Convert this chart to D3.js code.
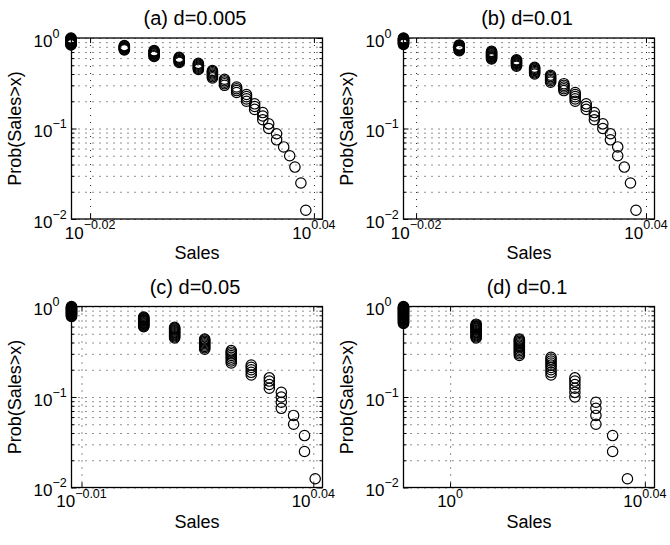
<!DOCTYPE html>
<html>
<head>
<meta charset="utf-8">
<script src="https://cdn.jsdelivr.net/npm/d3@7"></script>
<style>
  body { margin: 0; background: #fff; }
  svg { display: block; }
  text { font-family: "Liberation Sans", Arial, Helvetica, sans-serif; fill: #000; }
</style>
</head>
<body>
<div id="plot"></div>
<script>
// Panel titles
const titles = ["(a) d=0.005", "(b) d=0.01", "(c) d=0.05", "(d) d=0.1"];

// Distinct sales levels and how many samples sit at each level
const salesA  = [0.9438, 0.9754, 0.9935, 1.0090, 1.0210, 1.0299, 1.0376, 1.0454, 1.0518, 1.0571, 1.0624, 1.0663, 1.0715, 1.0762, 1.0802, 1.0837, 1.0877, 1.0910];
const countsA = [14, 8, 9, 7, 7, 7, 5, 4, 4, 3, 3, 2, 2, 1, 1, 1, 1, 1];

const salesB  = [0.9478, 0.9801, 0.9993, 1.0144, 1.0255, 1.0354, 1.0437, 1.0508, 1.0578, 1.0630, 1.0684, 1.0733, 1.0780, 1.0823, 1.0863, 1.0899];
const countsB = [13, 10, 11, 8, 7, 6, 5, 5, 3, 3, 2, 2, 2, 1, 1, 1];

const salesC  = [0.9724, 1.0079, 1.0235, 1.0389, 1.0527, 1.0632, 1.0728, 1.0792, 1.0858, 1.0917, 1.0975];
const countsC = [19, 14, 12, 9, 8, 5, 4, 4, 2, 2, 1];

const salesD  = [0.9782, 1.0124, 1.0333, 1.0489, 1.0608, 1.0714, 1.0799, 1.0875];
const countsD = [29, 16, 13, 9, 6, 4, 2, 1];

// Axis limits and tick exponents (labels are 10^exp)
const xLimitsA = [0.9441, 1.1023];
const xLimitsB = [0.9478, 1.1021];
const xLimitsC = [0.9724, 1.1015];
const xLimitsD = [0.9782, 1.1015];
const xTickExpA = ["-0.02", "0.04"];
const xTickExpB = ["-0.02", "0.04"];
const xTickExpC = ["-0.01", "0.04"];
const xTickExpD = ["0", "0.04"];
const yTickExp = ["-2", "-1", "0"];

const width = 670, height = 545;
const W = 251, H = 181;
const lefts = [71.5, 403.5], tops = [38, 306.5];

const svg = d3.select("#plot").append("svg")
  .attr("width", width)
  .attr("height", height);

const panels = [
  { title: titles[0], sales: salesA, counts: countsA, lim: xLimitsA, ticks: xTickExpA },
  { title: titles[1], sales: salesB, counts: countsB, lim: xLimitsB, ticks: xTickExpB },
  { title: titles[2], sales: salesC, counts: countsC, lim: xLimitsC, ticks: xTickExpC },
  { title: titles[3], sales: salesD, counts: countsD, lim: xLimitsD, ticks: xTickExpD }
];

// y grid / tick positions: 1..9 x each decade
const yMajor = yTickExp.map(e => Math.pow(10, +e));
const yMinor = [];
[-2, -1].forEach(e => d3.range(2, 10).forEach(m => yMinor.push(m * Math.pow(10, e))));

panels.forEach((p, i) => {
  const left = lefts[i % 2], top = tops[Math.floor(i / 2)];
  const g = svg.append("g").attr("transform", `translate(${left},${top})`);

  const x = d3.scaleLog().domain(p.lim).range([0, W]);
  const y = d3.scaleLog().domain([0.01, 1]).range([H, 0]);
  const xTickVals = p.ticks.map(e => Math.pow(10, +e));

  // empirical CCDF: Prob(Sales > x) = rank / N, one marker per sample
  const N = d3.sum(p.counts);
  const pts = [];
  let k = N;
  p.sales.forEach((s, j) => {
    for (let c = 0; c < p.counts[j]; c++) {
      pts.push({ sales: s, prob: k / N });
      k--;
    }
  });

  // dotted grid
  const gridY = g.append("g")
    .call(d3.axisLeft(y).tickValues(yMinor.concat(yMajor)).tickSize(-W).tickFormat(""));
  const gridX = g.append("g")
    .call(d3.axisBottom(x).tickValues(xTickVals).tickSize(H).tickFormat(""));
  [gridY, gridX].forEach(gr => {
    gr.select(".domain").remove();
    gr.selectAll("line")
      .attr("stroke", "#222")
      .attr("stroke-width", 1)
      .attr("stroke-dasharray", "1,6");
  });

  // tick marks (inward) on all four sides
  const tick = (axis, tx, ty) => {
    const a = g.append("g").attr("transform", `translate(${tx},${ty})`).call(axis);
    a.select(".domain").remove();
    a.selectAll("line").attr("stroke", "#000");
  };
  tick(d3.axisLeft(y).tickValues(yMinor).tickSize(-3).tickFormat(""), 0, 0);
  tick(d3.axisLeft(y).tickValues(yMajor).tickSize(-5).tickFormat(""), 0, 0);
  tick(d3.axisRight(y).tickValues(yMinor).tickSize(-3).tickFormat(""), W, 0);
  tick(d3.axisRight(y).tickValues(yMajor).tickSize(-5).tickFormat(""), W, 0);
  tick(d3.axisBottom(x).tickValues(xTickVals).tickSize(-5).tickFormat(""), 0, H);
  tick(d3.axisTop(x).tickValues(xTickVals).tickSize(-5).tickFormat(""), 0, 0);

  // frame
  g.append("rect")
    .attr("width", W).attr("height", H)
    .attr("fill", "none").attr("stroke", "#000").attr("stroke-width", 1.3);

  // markers
  g.append("g").selectAll("circle")
    .data(pts)
    .enter().append("circle")
    .attr("cx", d => x(d.sales))
    .attr("cy", d => y(d.prob))
    .attr("r", 5.2)
    .attr("fill", "none")
    .attr("stroke", "#000")
    .attr("stroke-width", 1.2);

  // y tick labels
  yTickExp.forEach(e => {
    const t = g.append("text")
      .attr("x", -38)
      .attr("y", y(Math.pow(10, +e)) + 8.5)
      .style("font-size", "17px");
    t.append("tspan").text("10");
    t.append("tspan").attr("dy", -9).style("font-size", "12.5px").text(e.replace("-", "\u2212"));
  });

  // x tick labels
  p.ticks.forEach(e => {
    const t = g.append("text")
      .attr("x", x(Math.pow(10, +e)))
      .attr("y", H + 19.5)
      .attr("text-anchor", "middle")
      .style("font-size", "17px");
    t.append("tspan").text("10");
    t.append("tspan").attr("dy", -9.5).style("font-size", "12.5px").text(e.replace("-", "\u2212"));
  });

  // axis labels and title
  g.append("text")
    .attr("x", W / 2).attr("y", H + 40)
    .attr("text-anchor", "middle")
    .style("font-size", "18px")
    .text("Sales");

  g.append("text")
    .attr("transform", `translate(-51,${H / 2}) rotate(-90)`)
    .attr("text-anchor", "middle")
    .style("font-size", "18px")
    .text("Prob(Sales>x)");

  g.append("text")
    .attr("x", W / 2 - 2).attr("y", -13)
    .attr("text-anchor", "middle")
    .style("font-size", "20px")
    .text(p.title);
});
</script>
</body>
</html>
